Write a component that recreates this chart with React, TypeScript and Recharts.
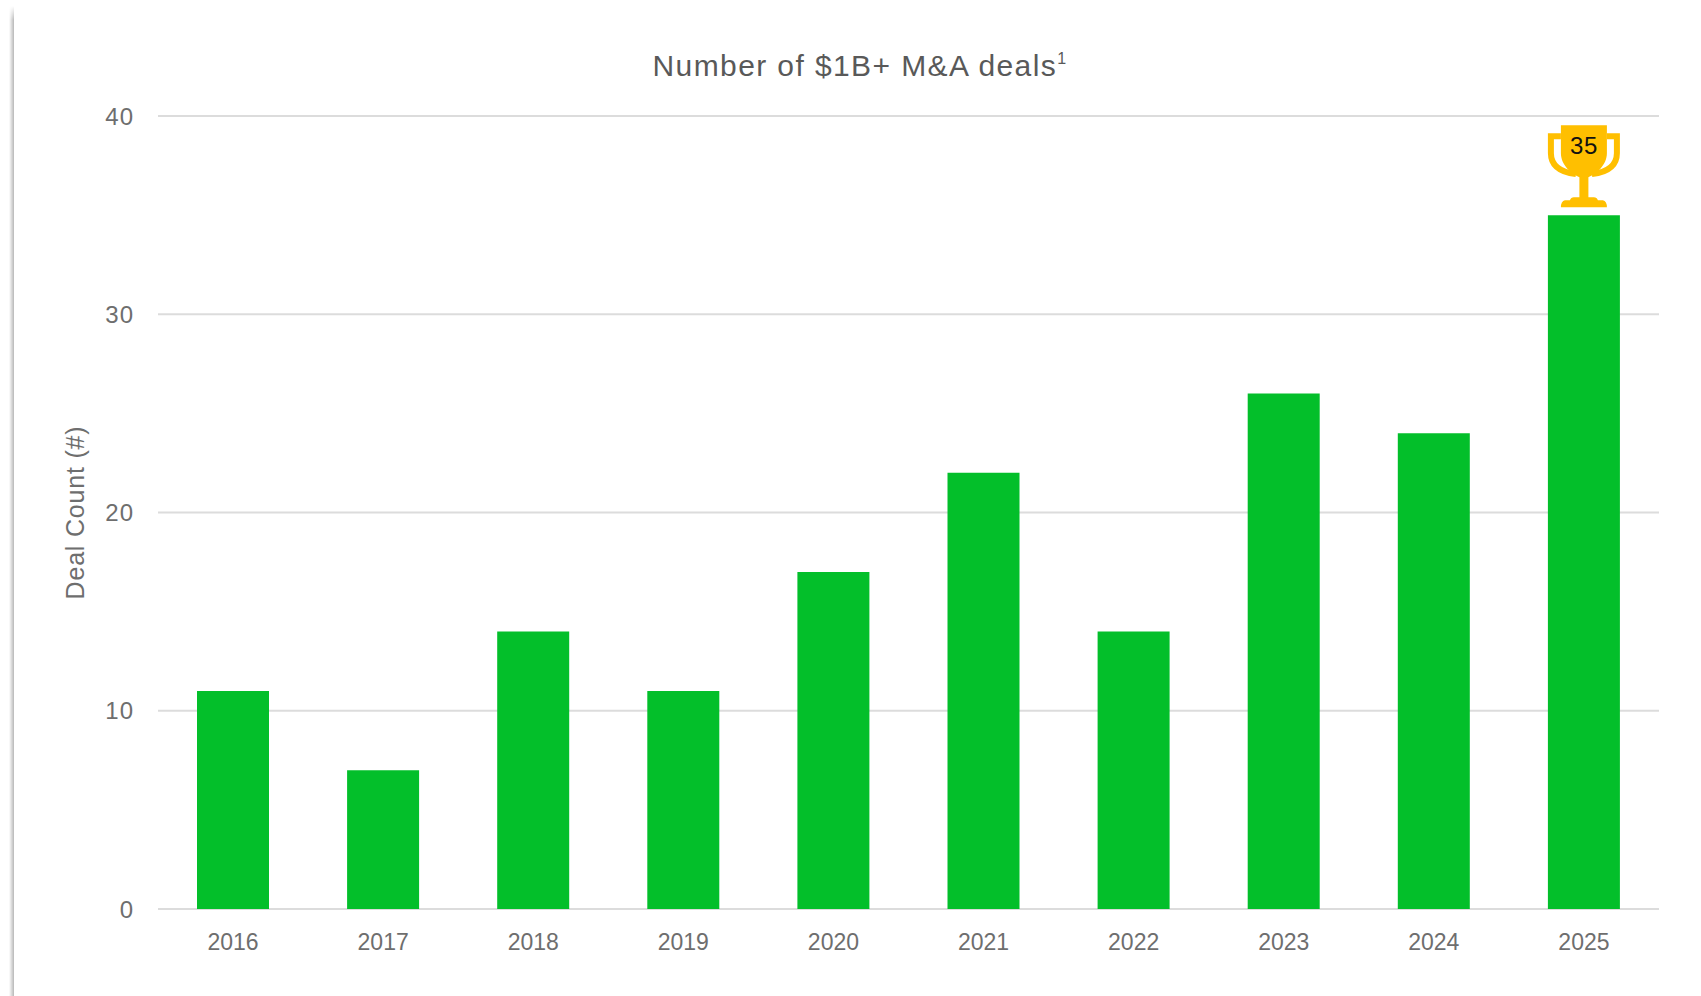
import { BarChart, Bar, XAxis, YAxis, CartesianGrid, LabelList } from 'recharts';

const years = ['2016', '2017', '2018', '2019', '2020', '2021', '2022', '2023', '2024', '2025'];
const dealCounts = [11, 7, 14, 11, 17, 22, 14, 26, 24, 35];
const yTicks = [0, 10, 20, 30, 40];

const chartData = years.map((year, i) => ({ year, deals: dealCounts[i] }));
const topValue = Math.max(...dealCounts);

const FONT = '"Liberation Sans", Arial, sans-serif';

// only the record year gets a trophy, with the value written on the cup
const TrophyLabel = ({ x, y, width, value }: any) => {
  if (value !== topValue) return null;
  const cx = x + width / 2;
  return (
    <g transform={`translate(${cx},${y})`}>
      <path d="M-23,-79 H-33 V-62 C-33,-49 -23,-43 -8,-41" fill="none" stroke="#ffbf00" strokeWidth={6} />
      <path d="M23,-79 H33 V-62 C33,-49 23,-43 8,-41" fill="none" stroke="#ffbf00" strokeWidth={6} />
      <path
        d="M-23,-90 H23 V-62 C23,-50 12,-41 4.5,-38 V-18 H10 Q13,-18 14,-15 H19 Q23,-14 23,-8 H-23 Q-23,-14 -19,-15 H-14 Q-13,-18 -10,-18 H-4.5 V-38 C-12,-41 -23,-50 -23,-62 Z"
        fill="#ffbf00"
      />
      <text x={0} y={-61} textAnchor="middle" fontFamily={FONT} fontSize={24} letterSpacing={0.5} fill="#111">
        {value}
      </text>
    </g>
  );
};

export default function App() {
  return (
    <div style={{ position: 'absolute', left: 0, top: 0, width: 1701, height: 996, overflow: 'hidden', background: '#fff' }}>
      {/* card edge: soft shadow down the left side, fading out at the top */}
      <div
        style={{
          position: 'absolute',
          left: 9,
          top: 6,
          width: 5,
          height: 990,
          background: 'linear-gradient(to right, rgba(0,0,0,0), rgba(0,0,0,0.28))',
          maskImage: 'linear-gradient(to bottom, transparent, black 14px)',
        }}
      />
      <div
        style={{
          position: 'absolute',
          left: 0,
          width: 1720,
          top: 46,
          textAlign: 'center',
          fontFamily: FONT,
          fontSize: 30,
          lineHeight: '40px',
          letterSpacing: 1.4,
          color: '#595959',
        }}
      >
        Number of $1B+ M&amp;A deals
        <sup style={{ fontSize: 16, lineHeight: 0, verticalAlign: 12 }}>1</sup>
      </div>
      <div style={{ position: 'absolute', left: 0, top: 0 }}>
        <BarChart
          width={1701}
          height={996}
          data={chartData}
          margin={{ top: 116, right: 42, bottom: 0, left: 0 }}
        >
          <CartesianGrid horizontal vertical={false} stroke="#dcdcdc" strokeWidth={2} />
          <XAxis
            dataKey="year"
            height={87}
            axisLine={false}
            tickLine={false}
            tickMargin={19}
            interval={0}
            tick={{ fontSize: 23, fill: '#6e6e6e', fontFamily: FONT }}
          />
          <YAxis
            width={158}
            domain={[0, 40]}
            ticks={yTicks}
            axisLine={false}
            tickLine={false}
            tickMargin={18}
            tick={{ fontSize: 24, fill: '#6e6e6e', fontFamily: FONT, letterSpacing: 1 }}
            label={{
              value: 'Deal Count (#)',
              angle: -90,
              position: 'insideLeft',
              dx: 70,
              dy: 0,
              style: { fontSize: 25, letterSpacing: 0.8, fill: '#6e6e6e', fontFamily: FONT, textAnchor: 'middle' },
            }}
          />
          <Bar dataKey="deals" fill="#03bf2a" barSize={72} isAnimationActive={false}>
            <LabelList dataKey="deals" content={TrophyLabel} />
          </Bar>
        </BarChart>
      </div>
    </div>
  );
}
